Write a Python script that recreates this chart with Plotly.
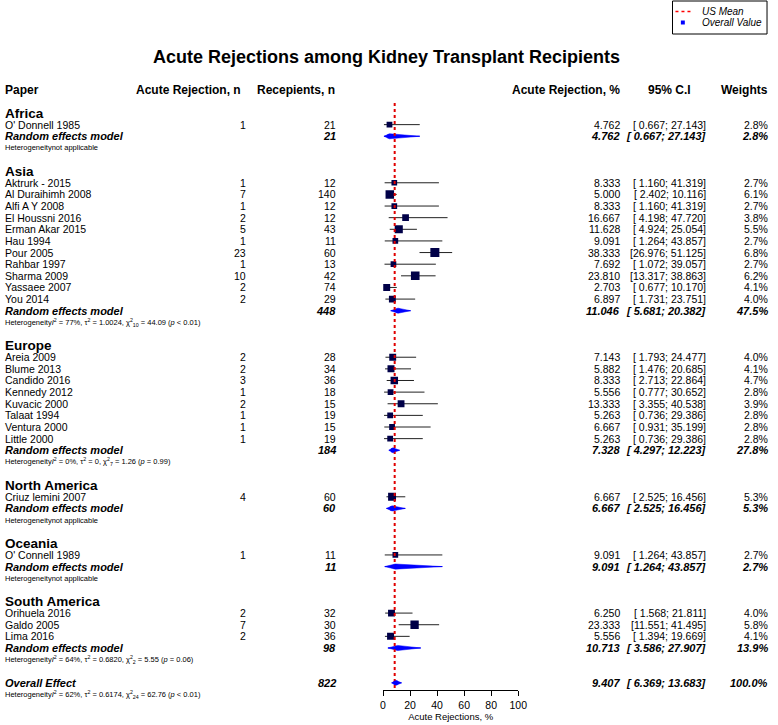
import plotly.graph_objects as go

FONT = "Arial, 'Liberation Sans', sans-serif"
W, H = 778, 725

# ---------------- data ----------------
group_names = ["Africa", "Asia", "Europe", "North America", "Oceania", "South America"]

study_names = [
    "O' Donnell 1985",
    "Aktrurk - 2015", "Al Duraihimh 2008", "Alfi A Y 2008", "El Houssni 2016", "Erman Akar 2015",
    "Hau 1994", "Pour 2005", "Rahbar 1997", "Sharma 2009", "Yassaee 2007", "You 2014",
    "Areia 2009", "Blume 2013", "Candido 2016", "Kennedy 2012", "Kuvacic 2000", "Talaat 1994",
    "Ventura 2000", "Little 2000",
    "Criuz lemini 2007",
    "O' Connell 1989",
    "Orihuela 2016", "Galdo 2005", "Lima 2016",
]
study_group = [0] + [1] * 11 + [2] * 8 + [3] + [4] + [5] * 3
events = [1, 1, 7, 1, 2, 5, 1, 23, 1, 10, 2, 2, 2, 2, 3, 1, 2, 1, 1, 1, 4, 1, 2, 7, 2]
totals = [21, 12, 140, 12, 12, 43, 11, 60, 13, 42, 74, 29, 28, 34, 36, 18, 15, 19, 15, 19, 60, 11, 32, 30, 36]
est = [4.762, 8.333, 5.000, 8.333, 16.667, 11.628, 9.091, 38.333, 7.692, 23.810, 2.703, 6.897,
       7.143, 5.882, 8.333, 5.556, 13.333, 5.263, 6.667, 5.263, 6.667, 9.091, 6.250, 23.333, 5.556]
lower = [0.667, 1.160, 2.402, 1.160, 4.198, 4.924, 1.264, 26.976, 1.072, 13.317, 0.677, 1.731,
         1.793, 1.476, 2.713, 0.777, 3.355, 0.736, 0.931, 0.736, 2.525, 1.264, 1.568, 11.551, 1.394]
upper = [27.143, 41.319, 10.116, 41.319, 47.720, 25.054, 43.857, 51.125, 39.057, 38.863, 10.170, 23.751,
         24.477, 20.685, 22.864, 30.652, 40.538, 29.386, 35.199, 29.386, 16.456, 43.857, 21.811, 41.495, 19.669]
weights = [2.8, 2.7, 6.1, 2.7, 3.8, 5.5, 2.7, 6.8, 2.7, 6.2, 4.1, 4.0,
           4.0, 4.1, 4.7, 2.8, 3.9, 2.8, 2.8, 2.8, 5.3, 2.7, 4.0, 5.8, 4.1]

rem_total = [21, 448, 184, 60, 11, 98]
rem_est = [4.762, 11.046, 7.328, 6.667, 9.091, 10.713]
rem_lower = [0.667, 5.681, 4.297, 2.525, 1.264, 3.586]
rem_upper = [27.143, 20.382, 12.223, 16.456, 43.857, 27.907]
rem_weight = [2.8, 47.5, 27.8, 5.3, 2.7, 13.9]
het_text = [
    "Heterogeneitynot applicable",
    "Heterogeneity<i>I</i><sup>2</sup> = 77%, τ<sup>2</sup> = 1.0024, χ<sup>2</sup><sub>10</sub> = 44.09 (<i>p</i> &lt; 0.01)",
    "Heterogeneity<i>I</i><sup>2</sup> = 0%, τ<sup>2</sup> = 0, χ<sup>2</sup><sub>7</sub> = 1.26 (<i>p</i> = 0.99)",
    "Heterogeneitynot applicable",
    "Heterogeneitynot applicable",
    "Heterogeneity<i>I</i><sup>2</sup> = 64%, τ<sup>2</sup> = 0.6820, χ<sup>2</sup><sub>2</sub> = 5.55 (<i>p</i> = 0.06)",
]

overall_total = 822
overall_est = 9.407
overall_lower = 6.369
overall_upper = 13.683
overall_weight = 100.0
overall_het = ("Heterogeneity<i>I</i><sup>2</sup> = 62%, τ<sup>2</sup> = 0.6174, "
               "χ<sup>2</sup><sub>24</sub> = 62.76 (<i>p</i> &lt; 0.01)")

us_mean = 8.6
x_ticks = [0, 20, 40, 60, 80, 100]
legend_labels = ["US Mean", "Overall Value"]

# ---------------- row layout ----------------
ROW0_PX, ROW_PX = 113.0, 11.63


def px_to_row(p):
    return (p - ROW0_PX) / ROW_PX


row = 0
group_row, study_row, rem_row, het_row = [], [0] * len(study_names), [], []
for g in range(len(group_names)):
    group_row.append(row)
    row += 1
    for i, sg in enumerate(study_group):
        if sg == g:
            study_row[i] = row
            row += 1
    rem_row.append(row)
    row += 1
    het_row.append(row)
    row += 2
overall_row = row
overall_het_row = row + 1

annotations = []


def ann(xpx, r, text, anchor="left", size=10.5, bold=False, italic=False, color="black"):
    if bold:
        text = "<b>" + text + "</b>"
    if italic:
        text = "<i>" + text + "</i>"
    annotations.append(dict(x=xpx / W, xref="paper", y=r, yref="y", text=text, showarrow=False,
                            xanchor=anchor, yanchor="middle",
                            font=dict(family=FONT, size=size, color=color)))


def ci_str(lo, hi):
    return "[%6.3f; %6.3f]" % (lo, hi)


X_NAME, X_EV, X_TOT, X_EST, X_CI, X_W = 0, 249, 340, 629, 716, 779

# title & header
ann(389, px_to_row(57), "Acute Rejections among Kidney Transplant Recipients", "center", 18, bold=True)
hr = px_to_row(90)
ann(X_NAME, hr, "Paper", "left", 12, bold=True)
ann(244, hr, "Acute Rejection, n", "right", 12, bold=True)
ann(339, hr, "Recepients, n", "right", 12, bold=True)
ann(629, hr, "Acute Rejection, %", "right", 12, bold=True)
ann(677, hr, "95% C.I", "center", 12, bold=True)
ann(779, hr, "Weights", "right", 12, bold=True)

for g, name in enumerate(group_names):
    ann(X_NAME, group_row[g], name, "left", 13.5, bold=True)
    ann(X_NAME, rem_row[g], "Random effects model", "left", 11, bold=True, italic=True)
    ann(X_TOT, rem_row[g], str(rem_total[g]), "right", 11, bold=True, italic=True)
    ann(X_EST, rem_row[g], "%.3f" % rem_est[g], "right", 11, bold=True, italic=True)
    ann(X_CI, rem_row[g], ci_str(rem_lower[g], rem_upper[g]), "right", 11, bold=True, italic=True)
    ann(X_W, rem_row[g], "%.1f%%" % rem_weight[g], "right", 11, bold=True, italic=True)
    ann(X_NAME, het_row[g], het_text[g], "left", 7.5)

for i, name in enumerate(study_names):
    r = study_row[i]
    ann(X_NAME, r, name, "left", 10.5)
    ann(X_EV, r, str(events[i]), "right", 10.5)
    ann(X_TOT, r, str(totals[i]), "right", 10.5)
    ann(X_EST, r, "%.3f" % est[i], "right", 10.5)
    ann(X_CI, r, ci_str(lower[i], upper[i]), "right", 10.5)
    ann(X_W, r, "%.1f%%" % weights[i], "right", 10.5)

ann(X_NAME, overall_row, "Overall Effect", "left", 11, bold=True, italic=True)
ann(X_TOT, overall_row, str(overall_total), "right", 11, bold=True, italic=True)
ann(X_EST, overall_row, "%.3f" % overall_est, "right", 11, bold=True, italic=True)
ann(X_CI, overall_row, ci_str(overall_lower, overall_upper), "right", 11, bold=True, italic=True)
ann(X_W, overall_row, "%.1f%%" % overall_weight, "right", 11, bold=True, italic=True)
ann(X_NAME, overall_het_row, overall_het, "left", 7.5)

# ---------------- traces ----------------
fig = go.Figure()

# whiskers
wx, wy = [], []
for i in range(len(study_names)):
    wx += [lower[i], upper[i], None]
    wy += [study_row[i], study_row[i], None]
fig.add_trace(go.Scatter(x=wx, y=wy, mode="lines", line=dict(color="#222222", width=1),
                         hoverinfo="skip", showlegend=False))

# study squares (side ~ sqrt(weight))
sizes = [9.0 * (w / 6.8) ** 0.5 for w in weights]
fig.add_trace(go.Scatter(x=est, y=study_row, mode="markers",
                         marker=dict(symbol="square", size=sizes, color="#000048", opacity=1,
                                     line=dict(width=0)),
                         showlegend=False, name="Studies"))

# diamonds
all_est = rem_est + [overall_est]
all_lo = rem_lower + [overall_lower]
all_hi = rem_upper + [overall_upper]
all_row = rem_row + [overall_row]
dx, dy, lx, ly = [], [], [], []
h = 0.22
for e, lo, hi, r in zip(all_est, all_lo, all_hi, all_row):
    dx += [lo, e, hi, e, lo, None]
    dy += [r, r - h, r, r + h, r, None]
    lx += [lo, hi, None]
    ly += [r, r, None]
fig.add_trace(go.Scatter(x=lx, y=ly, mode="lines", line=dict(color="#0000ff", width=1),
                         hoverinfo="skip", showlegend=False))
fig.add_trace(go.Scatter(x=dx, y=dy, mode="lines", fill="toself", fillcolor="#0000ff",
                         line=dict(color="#0000ff", width=0.5), hoverinfo="skip", showlegend=False))

# US mean line
fig.add_trace(go.Scatter(x=[us_mean, us_mean], y=[px_to_row(103), px_to_row(688)], mode="lines",
                         line=dict(color="#e00000", width=2, dash="dot"), name=legend_labels[0],
                         showlegend=False))
# overall values marker
fig.add_trace(go.Scatter(x=all_est, y=all_row, mode="markers",
                         marker=dict(symbol="square", size=4, color="#0000ff", opacity=1),
                         name=legend_labels[1], showlegend=False))


# hand-drawn legend box (top right), in paper coords
def pxx(p):
    return p / W


def pxy(p):
    return 1 - p / H


shapes = [
    dict(type="rect", xref="paper", yref="paper", x0=pxx(680), x1=pxx(776), y0=pxy(34), y1=pxy(1),
         line=dict(color="black", width=1), fillcolor="white"),
    dict(type="line", xref="paper", yref="paper", x0=pxx(683), x1=pxx(699), y0=pxy(11.5), y1=pxy(11.5),
         line=dict(color="#ff0000", width=1.5, dash="dot")),
    dict(type="rect", xref="paper", yref="paper", x0=pxx(688.5), x1=pxx(692.5), y0=pxy(24.5), y1=pxy(20.5),
         line=dict(width=0), fillcolor="#0000ff"),
]
for lab, yp in zip(legend_labels, [11.5, 22.5]):
    annotations.append(dict(x=pxx(708), xref="paper", y=pxy(yp), yref="paper", text="<i>" + lab + "</i>",
                            showarrow=False, xanchor="left", yanchor="middle",
                            font=dict(family=FONT, size=10, color="black")))

axis_px = 690
fig.update_layout(
    width=W, height=H,
    margin=dict(l=0, r=0, t=0, b=0, pad=0),
    paper_bgcolor="white", plot_bgcolor="white",
    font=dict(family=FONT, color="black"),
    annotations=annotations,
    shapes=shapes,
    xaxis=dict(domain=[386 / W, 523.3 / W], range=[0, 100], tickvals=x_ticks,
               anchor="free", position=1 - axis_px / H,
               showline=True, linecolor="black", linewidth=1, mirror=False,
               ticks="outside", ticklen=5, tickcolor="black", tickwidth=1,
               showgrid=False, zeroline=False,
               tickfont=dict(size=10.5, family=FONT, color="black"),
               title=dict(text="Acute Rejections, %", font=dict(size=9.5, family=FONT), standoff=2)),
    yaxis=dict(domain=[0, 1], range=[px_to_row(H), px_to_row(0)], visible=False),
    showlegend=False,
)

fig.write_html(
    "out.html",
    config={"displayModeBar": False},
    post_script="document.body.style.margin='0px';document.body.style.overflow='hidden';",
)
